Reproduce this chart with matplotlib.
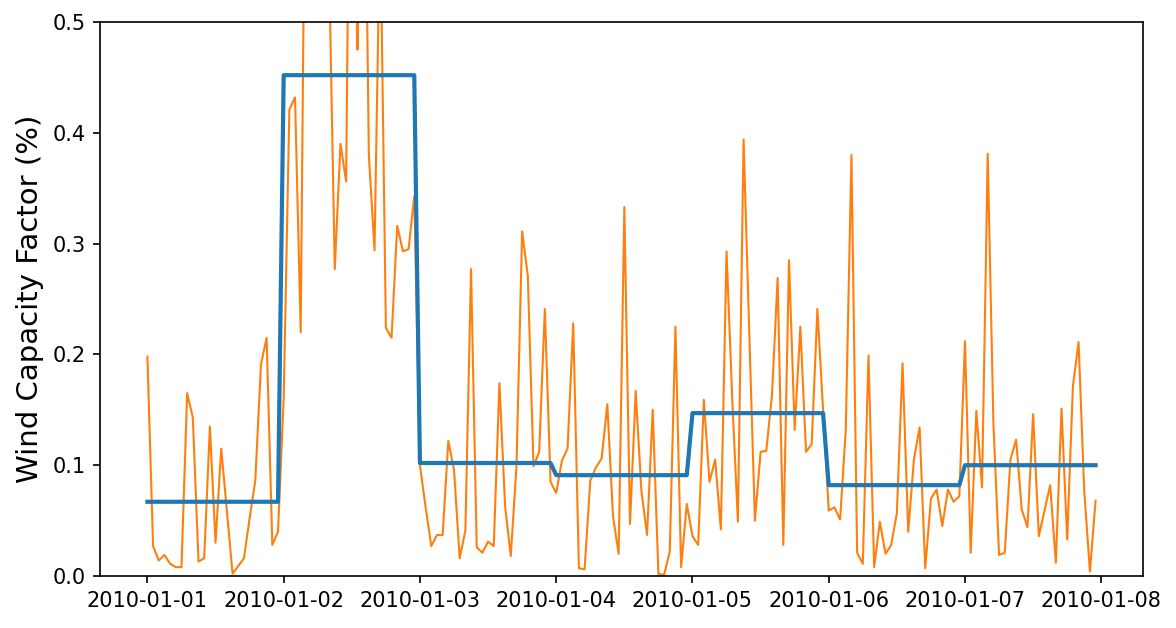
import numpy as np
import pandas as pd
import matplotlib
matplotlib.use("Agg")
import matplotlib.pyplot as plt
import matplotlib.dates as mdates

# hourly wind capacity factor, one list per day
day1 = [0.198, 0.027, 0.014, 0.019, 0.011, 0.008, 0.008, 0.165, 0.143, 0.013, 0.016, 0.135,
        0.030, 0.115, 0.058, 0.002, 0.009, 0.016, 0.052, 0.086, 0.191, 0.215, 0.028, 0.040]
day2 = [0.160, 0.421, 0.432, 0.220, 0.800, 0.750, 0.700, 0.650, 0.550, 0.277, 0.390, 0.356,
        0.900, 0.475, 0.800, 0.380, 0.294, 0.600, 0.224, 0.215, 0.316, 0.293, 0.295, 0.343]
day3 = [0.100, 0.062, 0.027, 0.037, 0.037, 0.122, 0.096, 0.016, 0.041, 0.277, 0.026, 0.021,
        0.031, 0.027, 0.174, 0.063, 0.018, 0.099, 0.311, 0.271, 0.099, 0.112, 0.241, 0.085]
day4 = [0.075, 0.104, 0.115, 0.228, 0.007, 0.006, 0.086, 0.098, 0.106, 0.155, 0.054, 0.020,
        0.333, 0.047, 0.167, 0.077, 0.037, 0.150, 0.002, 0.001, 0.022, 0.225, 0.008, 0.065]
day5 = [0.036, 0.028, 0.159, 0.085, 0.105, 0.042, 0.293, 0.160, 0.049, 0.394, 0.220, 0.050,
        0.112, 0.113, 0.163, 0.269, 0.028, 0.285, 0.132, 0.225, 0.112, 0.119, 0.241, 0.150]
day6 = [0.059, 0.062, 0.051, 0.132, 0.380, 0.021, 0.011, 0.199, 0.008, 0.049, 0.020, 0.028,
        0.057, 0.192, 0.040, 0.105, 0.134, 0.007, 0.070, 0.078, 0.045, 0.078, 0.067, 0.072]
day7 = [0.212, 0.021, 0.149, 0.080, 0.381, 0.138, 0.019, 0.021, 0.105, 0.123, 0.060, 0.044,
        0.146, 0.036, 0.059, 0.082, 0.012, 0.151, 0.033, 0.171, 0.211, 0.077, 0.004, 0.068]

# daily mean capacity factor
daily_mean = [0.067, 0.452, 0.102, 0.091, 0.147, 0.082, 0.100]

hours = pd.date_range("2010-01-01 00:00", periods=24 * 7, freq="h")
days = pd.date_range("2010-01-01", periods=7, freq="D")

hourly = pd.Series(day1 + day2 + day3 + day4 + day5 + day6 + day7, index=hours)
daily = pd.Series(daily_mean, index=days).reindex(hours, method="ffill")

fig = plt.figure(figsize=(7.84, 628 / 150), dpi=150)
ax = fig.add_axes([100 / 1176, 1 - 576 / 628, 1043 / 1176, 554 / 628])

ax.plot(hourly.index, hourly.values, color="#ff7f0e", lw=1)
ax.plot(daily.index, daily.values, color="#1f77b4", lw=2)

ax.set_ylim(0, 0.5)
ax.set_ylabel("Wind Capacity Factor (%)", fontsize=14)
ax.xaxis.set_major_locator(mdates.DayLocator())
ax.xaxis.set_major_formatter(mdates.DateFormatter("%Y-%m-%d"))

fig.savefig("out.png", dpi=150)
